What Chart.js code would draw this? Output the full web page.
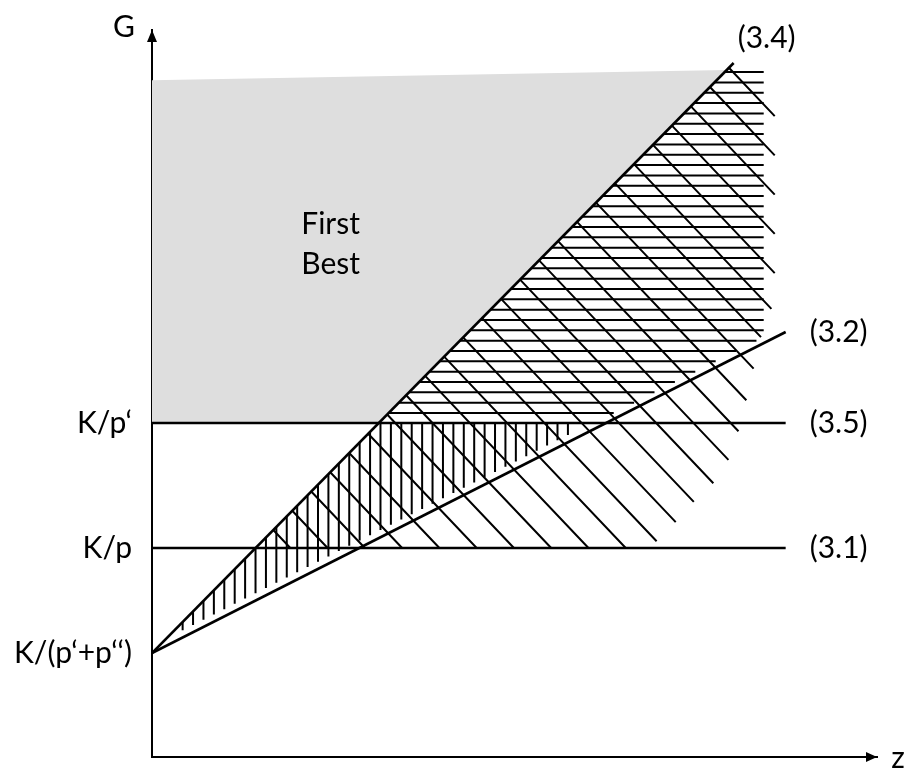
<!DOCTYPE html>
<html>
<head>
<meta charset="utf-8">
<script src="https://cdn.jsdelivr.net/npm/chart.js@4"></script>
<style>
  body { margin: 0; background: #fff; }
</style>
</head>
<body>
<canvas id="diagram" width="904" height="772"></canvas>
<script>
// axis ranges (abstract units)
const xMax = 10.2;
const yMax = 10;

// tick labels on the G axis
const yTickValues = [1.43, 2.875, 4.594];
const yTickLabels = ['K/(p‘+p‘‘)', 'K/p', 'K/p‘'];

// the four constraint lines
const curveNames = ['(3.4)', '(3.2)', '(3.5)', '(3.1)'];
const curveStartX = [0, 0, 0, 0];
const curveStartY = [1.43, 1.43, 4.594, 2.875];
const curveEndX = [8.183, 8.915, 8.915, 8.915];
const curveEndY = [9.546, 5.846, 4.594, 2.875];

// first best area (grey)
const greyX = [0, 8.085, 3.19, 0];
const greyY = [9.31, 9.45, 4.594, 4.594];

// right edge of the diagonal hatching
const diagLimitX = [8.761, 8.761, 8.563, 8.324, 8.169, 7.930, 7.592, 7.296, 7.0];
const diagLimitY = [9.86, 6.286, 5.763, 4.746, 4.182, 3.796, 3.480, 3.150, 2.875];

const slope34 = (curveEndY[0] - curveStartY[0]) / (curveEndX[0] - curveStartX[0]);
const slope32 = (curveEndY[1] - curveStartY[1]) / (curveEndX[1] - curveStartX[1]);
const g0 = curveStartY[0];
const kp1 = curveStartY[2];
const kp = curveStartY[3];

function line34X(y) { return (y - g0) / slope34; }
function line32X(y) { return (y - g0) / slope32; }

// horizontal hatching: right of (3.4), above (3.2) and K/p'
const hatchH = [];
for (let k = 0; k < 34; k++) {
    const y = 4.732 + k * 0.1421;
    const x1 = Math.min(8.606, line32X(y) - 0.17);
    hatchH.push({ x: line34X(y), y: y }, { x: x1, y: y }, { x: x1, y: null });
}

// vertical hatching: between (3.4) and (3.2), below K/p'
const hatchV = [];
for (let k = 0; k < 38; k++) {
    const x = 0.431 + k * 0.1465;
    const top = Math.min(g0 + slope34 * x, kp1);
    const bottom = g0 + slope32 * x + 0.1;
    if (top > bottom) {
        hatchV.push({ x: x, y: top }, { x: x, y: bottom }, { x: x, y: null });
    }
}

// diagonal hatching: right of (3.4), above K/p
const diagSlope = -1.03;
const hatchD = [];
for (let k = 0; k < 25; k++) {
    const b = 4.88 + k * 0.54;
    const xs = (b - g0) / (slope34 - diagSlope);
    let xe = (b - kp) / -diagSlope;
    for (let i = 0; i < diagLimitX.length - 1; i++) {
        const ax = diagLimitX[i], ay = diagLimitY[i];
        const bx = diagLimitX[i + 1], by = diagLimitY[i + 1];
        // where the hatch line crosses this piece of the edge
        const fa = ay - (b + diagSlope * ax);
        const fb = by - (b + diagSlope * bx);
        if (fa * fb <= 0 && fa !== fb) {
            const t = fa / (fa - fb);
            const xi = ax + t * (bx - ax);
            if (xi > xs && xi < xe) xe = xi;
        }
    }
    hatchD.push({ x: xs, y: b + diagSlope * xs }, { x: xe, y: b + diagSlope * xe }, { x: xe, y: null });
}

const curveData = curveNames.map((name, i) => ({
    label: name,
    data: [{ x: curveStartX[i], y: curveStartY[i] }, { x: curveEndX[i], y: curveEndY[i] }],
    borderColor: '#000',
    borderWidth: 2.6,
    showLine: true,
    pointRadius: 0
}));

const hatchStyle = { borderColor: '#000', borderWidth: 2, showLine: true, pointRadius: 0, spanGaps: false };

const textFont = '30px Lato';

// axis arrows, axis letters, line names and the area label
const annotations = {
    id: 'annotations',
    afterDraw(chart) {
        const ctx = chart.ctx;
        const area = chart.chartArea;
        const xs = chart.scales.x, ys = chart.scales.y;
        ctx.save();
        ctx.fillStyle = '#000';
        ctx.beginPath();
        ctx.moveTo(area.left, area.top);
        ctx.lineTo(area.left - 5, area.top + 12);
        ctx.lineTo(area.left + 5, area.top + 12);
        ctx.closePath();
        ctx.fill();
        ctx.beginPath();
        ctx.moveTo(area.right, area.bottom);
        ctx.lineTo(area.right - 11, area.bottom - 5);
        ctx.lineTo(area.right - 11, area.bottom + 5);
        ctx.closePath();
        ctx.fill();

        ctx.font = textFont;
        ctx.textBaseline = 'middle';
        ctx.textAlign = 'center';
        ctx.fillText('G', area.left - 28, area.top - 3);
        ctx.fillText('z', area.right + 21, area.bottom + 1);

        curveNames.forEach((name, i) => {
            const px = xs.getPixelForValue(curveEndX[i]);
            const py = ys.getPixelForValue(curveEndY[i]);
            if (i === 0) {
                ctx.textAlign = 'center';
                ctx.fillText(name, px + 33, py - 25);
            } else {
                ctx.textAlign = 'left';
                ctx.fillText(name, px + 24, py);
            }
        });

        ctx.textAlign = 'left';
        ctx.textBaseline = 'alphabetic';
        ctx.fillText('First', xs.getPixelForValue(2.1), ys.getPixelForValue(7.19));
        ctx.fillText('Best', xs.getPixelForValue(2.1), ys.getPixelForValue(6.64));
        ctx.restore();
    }
};

new Chart(document.getElementById('diagram'), {
    type: 'scatter',
    data: {
        datasets: [
            ...curveData,
            Object.assign({ label: 'horizontal', data: hatchH }, hatchStyle),
            Object.assign({ label: 'vertical', data: hatchV }, hatchStyle),
            Object.assign({ label: 'diagonal', data: hatchD }, hatchStyle),
            {
                label: 'First Best',
                data: greyX.map((x, i) => ({ x: x, y: greyY[i] })),
                showLine: true,
                borderWidth: 0,
                borderColor: 'rgba(0,0,0,0)',
                backgroundColor: '#dedede',
                fill: 'shape',
                pointRadius: 0
            }
        ]
    },
    options: {
        responsive: false,
        animation: false,
        layout: { padding: { top: 30, right: 27, bottom: 0, left: 0 } },
        plugins: {
            legend: { display: false },
            tooltip: { enabled: false }
        },
        scales: {
            x: {
                type: 'linear',
                min: 0,
                max: xMax,
                grid: { display: false, drawTicks: false },
                border: { display: true, color: '#000', width: 2 },
                ticks: { display: false },
                afterFit: (s) => {
                    s.height = 15;
                    s.paddingLeft = 0;
                    s.paddingRight = 0;
                }
            },
            y: {
                type: 'linear',
                min: 0,
                max: yMax,
                grid: { display: false, drawTicks: false },
                border: { display: true, color: '#000', width: 2 },
                afterBuildTicks: (s) => { s.ticks = yTickValues.map(v => ({ value: v })); },
                ticks: {
                    padding: 20,
                    color: '#000',
                    font: { family: 'Lato', size: 30 },
                    callback: (v) => yTickLabels[yTickValues.indexOf(v)]
                },
                afterFit: (s) => {
                    s.width = 152;
                    s.paddingTop = 0;
                    s.paddingBottom = 0;
                }
            }
        }
    },
    plugins: [annotations]
});
</script>
</body>
</html>
